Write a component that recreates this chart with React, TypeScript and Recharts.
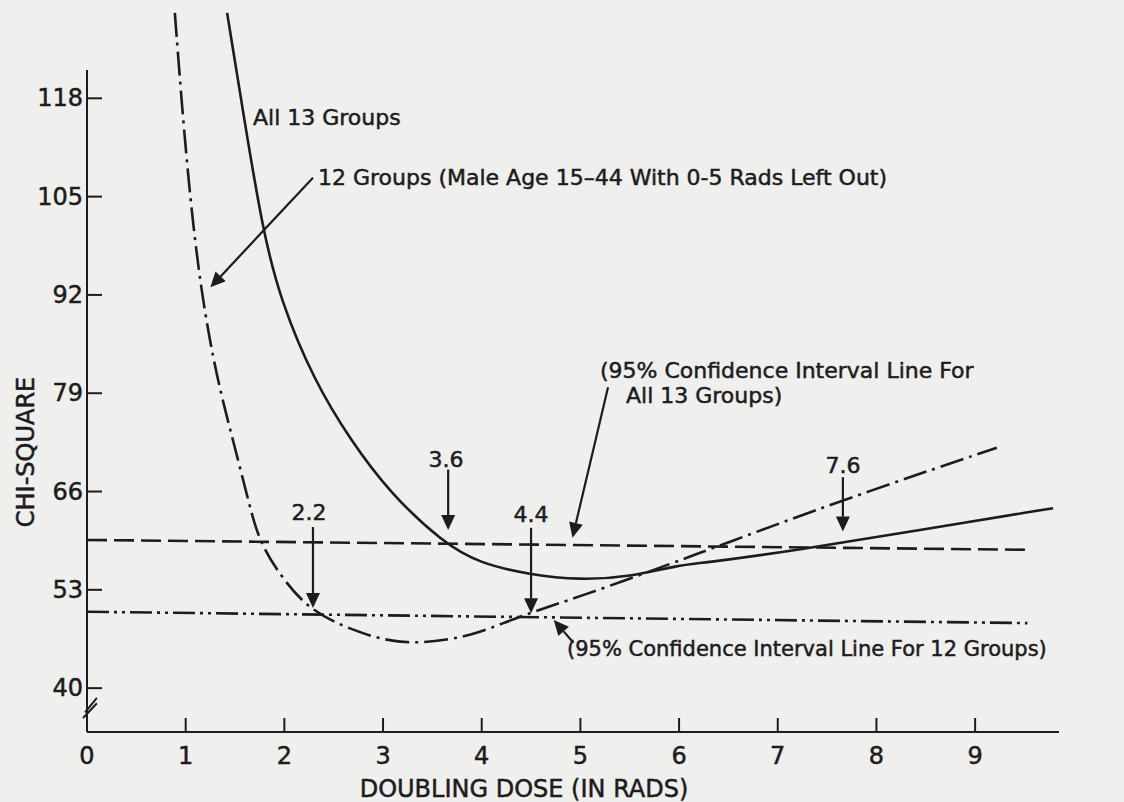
import React from "react";
import { LineChart, Line, XAxis, YAxis, ReferenceLine } from "recharts";

// chi-square vs doubling dose, all 13 groups (solid)
const allX = [1.42, 1.59, 1.78, 1.96, 2.3, 2.67, 3.07, 3.61, 3.98, 4.49, 4.99, 5.5, 6.01, 6.22, 7.23, 8.24, 9.79];
const allY = [129.3, 115.5, 100.6, 91.3, 80.7, 72.8, 65.8, 59.2, 56.5, 55.0, 54.3, 54.7, 56.3, 56.5, 58.3, 60.5, 63.8];

// 12 groups, male 15-44 with 0-5 rads left out (dash-dot)
const grpX = [0.89, 1.01, 1.15, 1.32, 1.48, 1.65, 1.75, 1.99, 2.26, 2.67, 3.17, 3.68, 3.98, 4.42, 5.0, 6.01, 6.42, 7.66, 9.22];
const grpY = [129.3, 108.9, 92.6, 80.7, 72.8, 64.0, 59.2, 54.3, 50.3, 47.7, 45.7, 46.4, 47.3, 49.7, 52.1, 56.9, 58.9, 64.9, 71.8];

// 95% confidence interval lines
const ci13X = [0, 9.51];
const ci13Y = [59.6, 58.3];
const ci12X = [0, 9.53];
const ci12Y = [50.1, 48.6];

const xTicks = [0, 1, 2, 3, 4, 5, 6, 7, 8, 9];
const yTicks = [40, 53, 66, 79, 92, 105, 118];

// arrows: [x1, y1, x2, y2] in data units, head at the second point
const arrows = [
  [2.29, 61.3, 2.29, 50.6],
  [3.66, 68.9, 3.66, 60.9],
  [4.5, 61.2, 4.5, 49.9],
  [7.66, 67.9, 7.66, 60.7],
  [5.28, 79.8, 4.92, 59.9],
  [2.29, 107.5, 1.25, 93.0],
  [4.93, 46.0, 4.73, 49.0],
];

const INK = "#1c1c1c";
const FONT = "DejaVu Sans";

const toRows = (xs: number[], ys: number[]) => xs.map((x, i) => ({ x, y: ys[i] }));

const ArrowShape = (p: any) => {
  const { x1, y1, x2, y2 } = p;
  const dx = x2 - x1;
  const dy = y2 - y1;
  const len = Math.sqrt(dx * dx + dy * dy) || 1;
  const ux = dx / len;
  const uy = dy / len;
  const hl = 15;
  const hw = 7;
  const bx = x2 - ux * hl;
  const by = y2 - uy * hl;
  return (
    <g>
      <line x1={x1} y1={y1} x2={bx} y2={by} stroke={INK} strokeWidth={2.2} />
      <polygon
        points={`${x2},${y2} ${bx - uy * hw},${by + ux * hw} ${bx + uy * hw},${by - ux * hw}`}
        fill={INK}
      />
    </g>
  );
};

const txt = { fontFamily: FONT, fill: INK, stroke: INK, strokeWidth: 0.5 } as const;

const YTick = (p: any) => {
  const { x, y, payload } = p;
  return (
    <g>
      <text {...txt} x={x + 4} y={y} textAnchor="end" dominantBaseline="central" fontSize={24}>
        {payload.value}
      </text>
      <line x1={x + 8} x2={x + 23} y1={y} y2={y} stroke={INK} strokeWidth={2} />
    </g>
  );
};

const XTick = (p: any) => {
  const { x, y, payload } = p;
  return (
    <g>
      <line x1={x} x2={x} y1={y - 10} y2={y - 24} stroke={INK} strokeWidth={2} />
      <text {...txt} x={x} y={y + 22} textAnchor="middle" fontSize={24}>
        {payload.value}
      </text>
    </g>
  );
};

export default function App() {
  return (
    <div style={{ position: "absolute", left: 0, top: 0, width: 1124, height: 802, background: "#efefed" }}>
      <LineChart width={1124} height={802} margin={{ top: 0, right: 65, bottom: 30, left: 27 }}>
        <XAxis
          type="number"
          dataKey="x"
          domain={[0, 9.85]}
          ticks={xTicks}
          allowDataOverflow
          height={40}
          tickSize={0}
          tickMargin={10}
          tick={<XTick />}
          axisLine={{ stroke: INK, strokeWidth: 2 }}
        />
        <YAxis
          type="number"
          dataKey="y"
          domain={[34.2, 131]}
          ticks={yTicks}
          allowDataOverflow
          width={60}
          tickSize={0}
          tickMargin={8}
          tick={<YTick />}
          axisLine={false}
          tickLine={false}
        />
        <ReferenceLine segment={[{ x: 0, y: 34.2 }, { x: 0, y: 121.75 }]} stroke={INK} strokeWidth={2} />
        <ReferenceLine
          segment={[{ x: -0.04, y: 36.05 }, { x: 0.1, y: 38.0 }]}
          stroke={INK}
          strokeWidth={2}
          ifOverflow="visible"
        />
        <ReferenceLine
          segment={[{ x: -0.02, y: 36.8 }, { x: 0.1, y: 38.7 }]}
          stroke={INK}
          strokeWidth={2}
          ifOverflow="visible"
        />
        <Line
          data={toRows(ci13X, ci13Y)}
          dataKey="y"
          type="linear"
          stroke={INK}
          strokeWidth={2.6}
          strokeDasharray="20 7"
          dot={false}
          isAnimationActive={false}
        />
        <Line
          data={toRows(ci12X, ci12Y)}
          dataKey="y"
          type="linear"
          stroke={INK}
          strokeWidth={2.6}
          strokeDasharray="22 5 3 5 3 5"
          dot={false}
          isAnimationActive={false}
        />
        <Line
          data={toRows(grpX, grpY)}
          dataKey="y"
          type="basis"
          stroke={INK}
          strokeWidth={2.6}
          strokeDasharray="24 6 3 6"
          dot={false}
          isAnimationActive={false}
        />
        <Line
          data={toRows(allX, allY)}
          dataKey="y"
          type="basis"
          stroke={INK}
          strokeWidth={2.6}
          dot={false}
          isAnimationActive={false}
        />
        {arrows.map((a, i) => (
          <ReferenceLine
            key={i}
            segment={[{ x: a[0], y: a[1] }, { x: a[2], y: a[3] }]}
            shape={ArrowShape}
            ifOverflow="visible"
          />
        ))}
      </LineChart>
      <svg width={1124} height={802} style={{ position: "absolute", left: 0, top: 0, pointerEvents: "none" }}>
        <text {...txt} x={253} y={125} fontSize={22}>All 13 Groups</text>
        <text {...txt} x={318} y={185} fontSize={22}>12 Groups (Male Age 15–44 With 0-5 Rads Left Out)</text>
        <text {...txt} x={600} y={378} fontSize={22}>(95% Confidence Interval Line For</text>
        <text {...txt} x={626} y={403} fontSize={22}>All 13 Groups)</text>
        <text {...txt} x={567} y={656} fontSize={21}>(95% Confidence Interval Line For 12 Groups)</text>
        <text {...txt} x={309} y={520} fontSize={22} textAnchor="middle">2.2</text>
        <text {...txt} x={446} y={467} fontSize={22} textAnchor="middle">3.6</text>
        <text {...txt} x={531} y={522} fontSize={22} textAnchor="middle">4.4</text>
        <text {...txt} x={843} y={473} fontSize={22} textAnchor="middle">7.6</text>
        <text {...txt} x={524} y={797} fontSize={24} textAnchor="middle">DOUBLING DOSE (IN RADS)</text>
        <text {...txt} x={0} y={0} fontSize={24} textAnchor="middle" transform="translate(34 452) rotate(-90)">
          CHI-SQUARE
        </text>
      </svg>
    </div>
  );
}
